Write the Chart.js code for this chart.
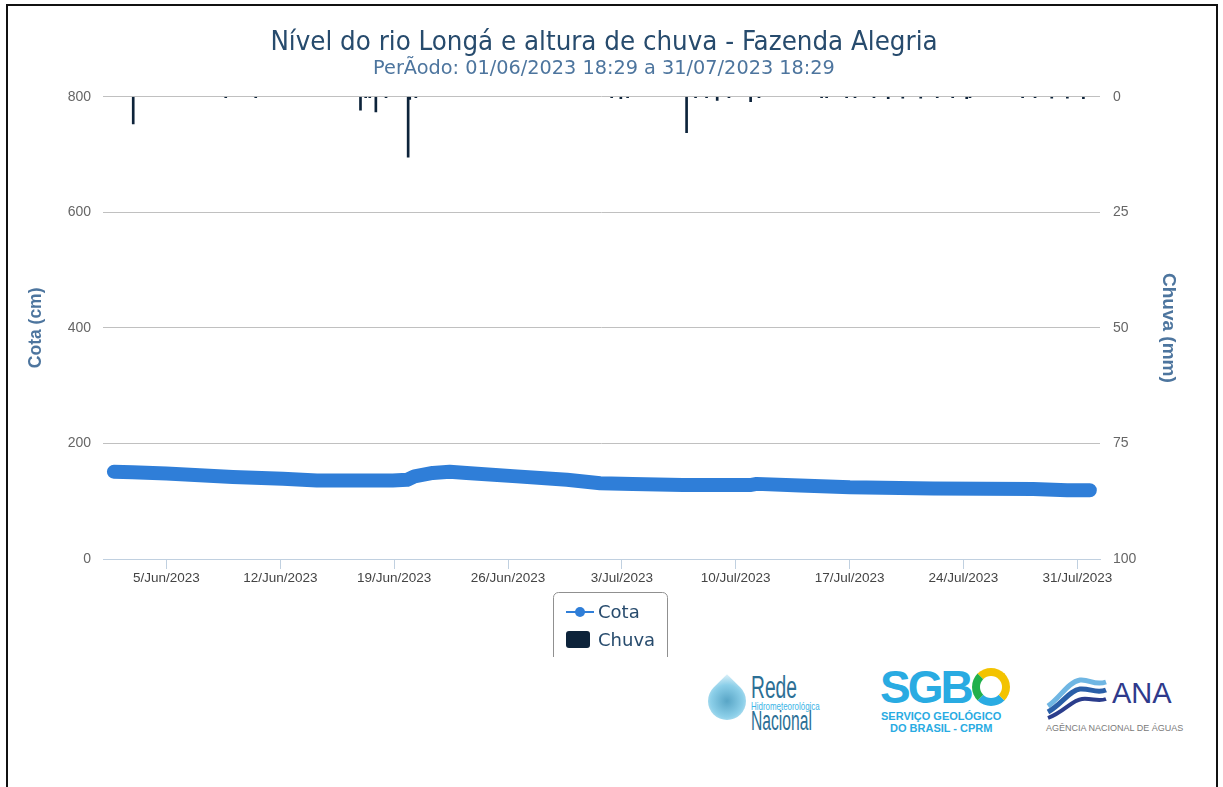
<!DOCTYPE html>
<html>
<head>
<meta charset="utf-8">
<script src="https://cdn.jsdelivr.net/npm/chart.js@4.4.0/dist/chart.umd.min.js"></script>
<style>
  html, body { margin: 0; padding: 0; background: #fff; width: 1223px; height: 787px; overflow: hidden; }
  #frame { position: absolute; left: 6px; top: 4px; width: 1208px; height: 900px; border: 2px solid #111; }
  #wrap { position: absolute; left: 8px; top: 6px; width: 1192px; height: 651px; }
  .logo { position: absolute; font-family: "Liberation Sans", sans-serif; line-height: 1; white-space: nowrap; transform-origin: 0 0; }
</style>
</head>
<body>
<div id="frame"></div>
<div id="wrap"><canvas id="grafico" width="1192" height="651"></canvas></div>

<!-- logos (aproximados em texto) -->
<div class="logo" style="left:706px;top:664px;width:40px;height:64px;">
  <div style="position:absolute;left:2px;top:18px;width:38px;height:38px;border-radius:50% 0 50% 50%;transform:rotate(-45deg);background:radial-gradient(circle at 50% 50%, #2f8fb8 0, #6fc3e3 60%, #d6eef8 100%);opacity:.8"></div>
</div>
<div class="logo" style="left:751px;top:672px;font-size:31px;color:#2c6f95;transform:scaleX(0.62);">Rede</div>
<div class="logo" style="left:751px;top:701px;font-size:11px;color:#3bb4e6;transform:scaleX(0.72);">Hidrometeorológica</div>
<div class="logo" style="left:751px;top:708px;font-size:27px;color:#2c6f95;transform:scaleX(0.58);">Nacional</div>

<div class="logo" style="left:880px;top:664px;font-size:46px;font-weight:bold;color:#29abe2;letter-spacing:-3px;">SGB</div>
<div class="logo" style="left:972px;top:668px;width:22px;height:22px;border:8px solid;border-color:#f3c300 #f3c300 #29abe2 #21b04b;border-radius:50%;"></div>
<div class="logo" style="left:881px;top:711px;font-size:11px;font-weight:bold;color:#29abe2;">SERVIÇO GEOLÓGICO</div>
<div class="logo" style="left:890px;top:723px;font-size:11px;font-weight:bold;color:#29abe2;">DO BRASIL - CPRM</div>

<svg class="logo" style="left:1046px;top:674px;" width="62" height="46" viewBox="0 0 62 46">
  <path d="M2 32 C14 24 22 8 34 6 C44 5 48 12 60 8" stroke="#6fb6e3" stroke-width="5" fill="none"/>
  <path d="M2 38 C16 30 24 16 34 15 C44 14 50 20 60 16" stroke="#2a5fa8" stroke-width="5" fill="none"/>
  <path d="M2 44 C18 38 26 26 36 25 C46 24 52 28 60 25" stroke="#2b3d8c" stroke-width="4" fill="none"/>
</svg>
<div class="logo" style="left:1112px;top:679px;font-size:29px;color:#2e3a8c;">ANA</div>
<div class="logo" style="left:1046px;top:724px;font-size:9px;color:#7a7a7a;">AGÊNCIA NACIONAL DE ÁGUAS</div>

<script>
// ---- dados ----
const cotaTimes = [
  '2023-06-01T18:29', '2023-06-02T22:00', '2023-06-05T00:00', '2023-06-07T01:00',
  '2023-06-09T02:00', '2023-06-12T04:00', '2023-06-14T06:00', '2023-06-17T07:00',
  '2023-06-18T22:00', '2023-06-19T19:00', '2023-06-20T06:00', '2023-06-21T09:00',
  '2023-06-22T10:00', '2023-06-23T11:00', '2023-06-26T13:00', '2023-06-29T15:00',
  '2023-07-01T16:00', '2023-07-03T16:00', '2023-07-06T18:00', '2023-07-10T21:00',
  '2023-07-11T07:00', '2023-07-13T23:00', '2023-07-17T00:30', '2023-07-20T02:00',
  '2023-07-22T03:00', '2023-07-28T07:00', '2023-07-30T09:00', '2023-07-31T18:29'
];
const cotaValues = [
  151, 150, 148, 145,
  142, 139, 136, 136,
  136, 137, 143, 149,
  151, 149, 143, 137,
  131, 130, 128, 128,
  130, 127, 124, 123,
  122, 121, 119, 119
];

const chuvaTimes = [
  '2023-06-02T23:00', '2023-06-08T15:30', '2023-06-10T11:45', '2023-06-16T22:20',
  '2023-06-17T06:00', '2023-06-17T12:00', '2023-06-17T21:00', '2023-06-18T12:00',
  '2023-06-19T20:40', '2023-06-19T23:00', '2023-06-20T08:00', '2023-07-02T09:00',
  '2023-07-02T22:30', '2023-07-03T08:30', '2023-07-06T23:30', '2023-07-07T12:45',
  '2023-07-08T05:00', '2023-07-08T20:40', '2023-07-09T14:00', '2023-07-10T22:00',
  '2023-07-11T10:20', '2023-07-15T06:45', '2023-07-15T14:10', '2023-07-16T19:40',
  '2023-07-17T08:00', '2023-07-18T12:00', '2023-07-19T09:00', '2023-07-20T06:30',
  '2023-07-21T09:00', '2023-07-22T09:20', '2023-07-23T08:10', '2023-07-24T04:50',
  '2023-07-24T09:40', '2023-07-27T15:20', '2023-07-28T09:40', '2023-07-29T10:20',
  '2023-07-30T09:20', '2023-07-31T09:00'
];
const chuvaValues = [
  5.9, 0.2, 0.2, 2.9,
  0.2, 0.2, 3.3, 0.2,
  13.1, 0.6, 0.2, 0.2,
  0.4, 0.2, 7.8, 0.2,
  0.2, 0.8, 0.2, 1.1,
  0.2, 0.2, 0.2, 0.2,
  0.2, 0.2, 0.4, 0.3,
  0.3, 0.2, 0.2, 0.4,
  0.2, 0.2, 0.2, 0.3,
  0.3, 0.4
];

const xTickDates = [
  '2023-06-05T00:00', '2023-06-12T00:00', '2023-06-19T00:00', '2023-06-26T00:00',
  '2023-07-03T00:00', '2023-07-10T00:00', '2023-07-17T00:00', '2023-07-24T00:00',
  '2023-07-31T00:00'
];
const cotaTicks = [0, 200, 400, 600, 800];
const chuvaTicks = [0, 25, 50, 75, 100];

const titulo = 'Nível do rio Longá e altura de chuva - Fazenda Alegria';
const subtitulo = 'PerÃodo: 01/06/2023 18:29 a 31/07/2023 18:29';

// ---- auxiliares ----
const toTime = s => new Date(s).getTime();
const MESES = ['Jan', 'Feb', 'Mar', 'Apr', 'May', 'Jun', 'Jul', 'Aug', 'Sep', 'Oct', 'Nov', 'Dec'];
function fmtData(v) {
    const d = new Date(v);
    return d.getDate() + '/' + MESES[d.getMonth()] + '/' + d.getFullYear();
}

const fonteTitulo = "'DejaVu Sans Condensed', 'DejaVu Sans', sans-serif";
const fonteSub = "'DejaVu Sans', sans-serif";
const fonteEixo = "'Liberation Sans', Arial, sans-serif";

// legenda desenhada numa caixa (cortada embaixo, como no original)
const caixaLegenda = {
    id: 'caixaLegenda',
    afterDraw(chart) {
        const c = chart.ctx;
        const ds = chart.data.datasets;
        c.save();
        c.strokeStyle = '#909090';
        c.lineWidth = 1;
        c.beginPath();
        c.roundRect(545.5, 586.5, 114, 90, 5);
        c.stroke();

        c.font = "18px 'DejaVu Sans', Verdana, sans-serif";
        c.textBaseline = 'middle';

        // Cota: linha com marcador
        c.strokeStyle = ds[0].borderColor;
        c.lineWidth = 2;
        c.beginPath(); c.moveTo(558, 606); c.lineTo(586, 606); c.stroke();
        c.fillStyle = ds[0].borderColor;
        c.beginPath(); c.arc(572, 606, 5, 0, Math.PI * 2); c.fill();
        c.fillStyle = '#274b6d';
        c.fillText(ds[0].label, 590, 607);

        // Chuva: quadrado
        c.fillStyle = ds[1].backgroundColor;
        c.beginPath(); c.roundRect(558, 625, 24, 17, 3); c.fill();
        c.fillStyle = '#274b6d';
        c.fillText(ds[1].label, 590, 635);
        c.restore();
    }
};

const ctx = document.getElementById('grafico').getContext('2d');
new Chart(ctx, {
    type: 'bar',
    data: {
        datasets: [
            {
                type: 'line',
                label: 'Cota',
                data: cotaTimes.map((t, i) => ({ x: toTime(t), y: cotaValues[i] })),
                borderColor: '#2f7ed8',
                backgroundColor: '#2f7ed8',
                borderWidth: 14,
                borderCapStyle: 'round',
                borderJoinStyle: 'round',
                pointRadius: 0,
                tension: 0,
                yAxisID: 'y'
            },
            {
                type: 'bar',
                label: 'Chuva',
                data: chuvaTimes.map((t, i) => ({ x: toTime(t), y: chuvaValues[i] })),
                backgroundColor: '#0d233a',
                barThickness: 2,
                yAxisID: 'y1'
            }
        ]
    },
    options: {
        responsive: false,
        animation: false,
        layout: { padding: 0 },
        plugins: {
            legend: { display: false },
            tooltip: { enabled: false },
            title: {
                display: true,
                text: titulo,
                color: '#274b6d',
                font: { family: fonteTitulo, size: 27.4, weight: 'normal', lineHeight: 1 },
                padding: { top: 23.3, bottom: 0 }
            },
            subtitle: {
                display: true,
                text: subtitulo,
                color: '#4d759e',
                font: { family: fonteSub, size: 19.3, lineHeight: 1 },
                padding: { top: 2.4, bottom: 18.3 }
            }
        },
        scales: {
            x: {
                type: 'linear',
                offset: false,
                min: toTime('2023-06-01T02:24'),
                max: toTime('2023-08-01T09:30'),
                afterBuildTicks: s => { s.ticks = xTickDates.map(t => ({ value: toTime(t) })); },
                afterFit: s => { s.height = 98; },
                ticks: {
                    callback: v => fmtData(v),
                    autoSkip: false,
                    maxRotation: 0,
                    color: '#444',
                    font: { family: fonteEixo, size: 13.5 },
                    padding: 1
                },
                grid: { offset: false, drawOnChartArea: false, drawTicks: true, tickLength: 10, color: '#c0d0e0' },
                border: { display: true, color: '#c0d0e0' }
            },
            y: {
                position: 'left',
                min: 0,
                max: 800,
                afterBuildTicks: s => { s.ticks = cotaTicks.map(v => ({ value: v })); },
                afterFit: s => { s.width = 95; },
                ticks: { color: '#666', font: { family: fonteEixo, size: 14 }, padding: 12 },
                grid: { color: '#c0c0c0', drawTicks: false },
                border: { display: false },
                title: {
                    display: true,
                    text: 'Cota (cm)',
                    color: '#4d759e',
                    font: { family: fonteEixo, size: 17.5, weight: 'bold' },
                    padding: { top: 18, bottom: 0 }
                }
            },
            y1: {
                position: 'right',
                reverse: true,
                min: 0,
                max: 100,
                afterBuildTicks: s => { s.ticks = chuvaTicks.map(v => ({ value: v })); },
                afterFit: s => { s.width = 100; },
                ticks: { color: '#666', font: { family: fonteEixo, size: 14 }, padding: 13 },
                grid: { drawOnChartArea: false, drawTicks: false },
                border: { display: false },
                title: {
                    display: true,
                    text: 'Chuva (mm)',
                    color: '#4d759e',
                    font: { family: fonteEixo, size: 19, weight: 'bold' },
                    padding: { top: 20, bottom: 0 }
                }
            }
        }
    },
    plugins: [caixaLegenda]
});
</script>
</body>
</html>
